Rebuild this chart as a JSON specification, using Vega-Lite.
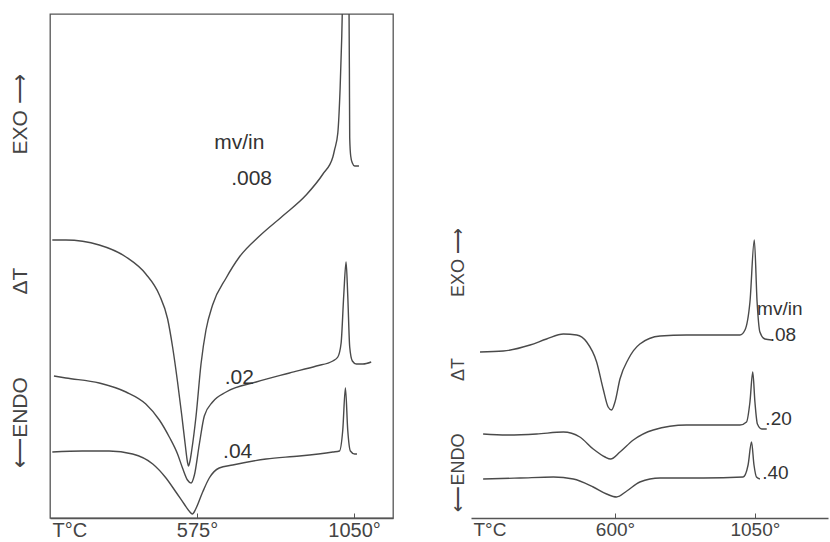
{
  "$schema": "https://vega.github.io/schema/vega-lite/v6.json",
  "background": "white",
  "padding": {"left": 8, "top": 13, "right": 2, "bottom": 0},
  "spacing": 78,
  "bounds": "flush",
  "config": {
    "font": "Liberation Sans",
    "view": {"stroke": null},
    "axis": {"grid": false, "labelColor": "#444", "titleColor": "#444", "titleFontWeight": "normal", "domainColor": "#555", "tickColor": "#555", "domainWidth": 1.3, "labelFont": "Liberation Sans", "titleFont": "Liberation Sans"}
  },
  "datasets": {
    "left": [
      {"s": "a", "T": 137, "Y": 278}, {"s": "a", "T": 178, "Y": 278}, {"s": "a", "T": 279, "Y": 273}, {"s": "a", "T": 360, "Y": 261}, {"s": "a", "T": 420, "Y": 244}, {"s": "a", "T": 461, "Y": 223}, {"s": "a", "T": 486, "Y": 199}, {"s": "a", "T": 501, "Y": 171}, {"s": "a", "T": 516, "Y": 136}, {"s": "a", "T": 529, "Y": 102}, {"s": "a", "T": 539, "Y": 74}, {"s": "a", "T": 546, "Y": 56}, {"s": "a", "T": 549, "Y": 52}, {"s": "a", "T": 553, "Y": 56}, {"s": "a", "T": 559, "Y": 68}, {"s": "a", "T": 572, "Y": 102}, {"s": "a", "T": 587, "Y": 154}, {"s": "a", "T": 602, "Y": 188}, {"s": "a", "T": 622, "Y": 213}, {"s": "a", "T": 663, "Y": 240}, {"s": "a", "T": 703, "Y": 261}, {"s": "a", "T": 764, "Y": 282}, {"s": "a", "T": 834, "Y": 302}, {"s": "a", "T": 905, "Y": 323}, {"s": "a", "T": 956, "Y": 344}, {"s": "a", "T": 986, "Y": 361}, {"s": "a", "T": 991, "Y": 368}, {"s": "a", "T": 1001, "Y": 385}, {"s": "a", "T": 1008, "Y": 430}, {"s": "a", "T": 1013, "Y": 482}, {"s": "a", "T": 1018, "Y": 560}, {"s": "a", "T": 1026, "Y": 700}, {"s": "a", "T": 1034, "Y": 560}, {"s": "a", "T": 1036, "Y": 450}, {"s": "a", "T": 1037, "Y": 380}, {"s": "a", "T": 1040, "Y": 362}, {"s": "a", "T": 1045, "Y": 355}, {"s": "a", "T": 1052, "Y": 352}, {"s": "a", "T": 1065, "Y": 352},
      {"s": "b", "T": 142, "Y": 142}, {"s": "b", "T": 178, "Y": 140}, {"s": "b", "T": 279, "Y": 135}, {"s": "b", "T": 360, "Y": 126}, {"s": "b", "T": 420, "Y": 114}, {"s": "b", "T": 461, "Y": 98}, {"s": "b", "T": 491, "Y": 81}, {"s": "b", "T": 516, "Y": 64}, {"s": "b", "T": 531, "Y": 50}, {"s": "b", "T": 546, "Y": 38}, {"s": "b", "T": 557, "Y": 35}, {"s": "b", "T": 567, "Y": 43}, {"s": "b", "T": 582, "Y": 74}, {"s": "b", "T": 597, "Y": 102}, {"s": "b", "T": 622, "Y": 116}, {"s": "b", "T": 663, "Y": 126}, {"s": "b", "T": 754, "Y": 136}, {"s": "b", "T": 855, "Y": 145}, {"s": "b", "T": 936, "Y": 152}, {"s": "b", "T": 986, "Y": 157}, {"s": "b", "T": 1001, "Y": 161}, {"s": "b", "T": 1011, "Y": 175}, {"s": "b", "T": 1019, "Y": 223}, {"s": "b", "T": 1026, "Y": 256}, {"s": "b", "T": 1031, "Y": 223}, {"s": "b", "T": 1037, "Y": 171}, {"s": "b", "T": 1045, "Y": 157}, {"s": "b", "T": 1057, "Y": 154}, {"s": "b", "T": 1077, "Y": 154}, {"s": "b", "T": 1102, "Y": 156},
      {"s": "c", "T": 137, "Y": 66}, {"s": "c", "T": 228, "Y": 67}, {"s": "c", "T": 309, "Y": 67}, {"s": "c", "T": 380, "Y": 64}, {"s": "c", "T": 441, "Y": 54}, {"s": "c", "T": 481, "Y": 40}, {"s": "c", "T": 511, "Y": 26}, {"s": "c", "T": 536, "Y": 14}, {"s": "c", "T": 551, "Y": 7}, {"s": "c", "T": 561, "Y": 4}, {"s": "c", "T": 571, "Y": 9}, {"s": "c", "T": 592, "Y": 26}, {"s": "c", "T": 612, "Y": 40}, {"s": "c", "T": 642, "Y": 50}, {"s": "c", "T": 683, "Y": 53}, {"s": "c", "T": 784, "Y": 59}, {"s": "c", "T": 885, "Y": 62}, {"s": "c", "T": 986, "Y": 66}, {"s": "c", "T": 1006, "Y": 67}, {"s": "c", "T": 1016, "Y": 88}, {"s": "c", "T": 1024, "Y": 130}, {"s": "c", "T": 1031, "Y": 88}, {"s": "c", "T": 1039, "Y": 67}, {"s": "c", "T": 1052, "Y": 64}, {"s": "c", "T": 1059, "Y": 64}
    ],
    "leftLabels": [
      {"T": 703, "Y": 375, "label": "mv/in"},
      {"T": 740, "Y": 339, "label": ".008"},
      {"T": 703, "Y": 140, "label": ".02"},
      {"T": 698, "Y": 66, "label": ".04"}
    ],
    "right": [
      {"s": "d", "T": 166, "Y": 166}, {"s": "d", "T": 241, "Y": 167}, {"s": "d", "T": 327, "Y": 173}, {"s": "d", "T": 380, "Y": 179}, {"s": "d", "T": 434, "Y": 184}, {"s": "d", "T": 477, "Y": 183}, {"s": "d", "T": 509, "Y": 176}, {"s": "d", "T": 541, "Y": 156}, {"s": "d", "T": 562, "Y": 129}, {"s": "d", "T": 578, "Y": 111}, {"s": "d", "T": 589, "Y": 108}, {"s": "d", "T": 600, "Y": 116}, {"s": "d", "T": 616, "Y": 139}, {"s": "d", "T": 643, "Y": 159}, {"s": "d", "T": 680, "Y": 174}, {"s": "d", "T": 745, "Y": 182}, {"s": "d", "T": 830, "Y": 183}, {"s": "d", "T": 937, "Y": 183}, {"s": "d", "T": 1002, "Y": 183}, {"s": "d", "T": 1018, "Y": 188}, {"s": "d", "T": 1034, "Y": 216}, {"s": "d", "T": 1048, "Y": 278}, {"s": "d", "T": 1057, "Y": 216}, {"s": "d", "T": 1066, "Y": 186}, {"s": "d", "T": 1082, "Y": 179}, {"s": "d", "T": 1104, "Y": 178},
      {"s": "e", "T": 176, "Y": 84}, {"s": "e", "T": 252, "Y": 83}, {"s": "e", "T": 348, "Y": 84}, {"s": "e", "T": 434, "Y": 86}, {"s": "e", "T": 487, "Y": 81}, {"s": "e", "T": 530, "Y": 69}, {"s": "e", "T": 568, "Y": 61}, {"s": "e", "T": 586, "Y": 59}, {"s": "e", "T": 616, "Y": 66}, {"s": "e", "T": 659, "Y": 78}, {"s": "e", "T": 723, "Y": 88}, {"s": "e", "T": 830, "Y": 93}, {"s": "e", "T": 1002, "Y": 93}, {"s": "e", "T": 1023, "Y": 96}, {"s": "e", "T": 1034, "Y": 116}, {"s": "e", "T": 1043, "Y": 146}, {"s": "e", "T": 1050, "Y": 116}, {"s": "e", "T": 1058, "Y": 94}, {"s": "e", "T": 1072, "Y": 89}, {"s": "e", "T": 1088, "Y": 89},
      {"s": "f", "T": 176, "Y": 39}, {"s": "f", "T": 295, "Y": 40}, {"s": "f", "T": 402, "Y": 41}, {"s": "f", "T": 466, "Y": 39}, {"s": "f", "T": 530, "Y": 31}, {"s": "f", "T": 573, "Y": 24}, {"s": "f", "T": 605, "Y": 21}, {"s": "f", "T": 638, "Y": 27}, {"s": "f", "T": 680, "Y": 36}, {"s": "f", "T": 745, "Y": 40}, {"s": "f", "T": 884, "Y": 40}, {"s": "f", "T": 1012, "Y": 41}, {"s": "f", "T": 1028, "Y": 53}, {"s": "f", "T": 1039, "Y": 76}, {"s": "f", "T": 1047, "Y": 53}, {"s": "f", "T": 1055, "Y": 41}, {"s": "f", "T": 1066, "Y": 39}
    ],
    "rightLabels": [
      {"T": 1130, "Y": 209, "label": "mv/in"},
      {"T": 1140, "Y": 183, "label": ".08"},
      {"T": 1126, "Y": 99, "label": ".20"},
      {"T": 1116, "Y": 45, "label": ".40"}
    ]
  },
  "hconcat": [
    {
      "width": 343,
      "height": 504,
      "view": {"stroke": "#555", "strokeWidth": 1.3},
      "layer": [
        {
          "data": {"name": "left"},
          "mark": {"type": "line", "clip": true, "color": "#4a4a4a", "strokeWidth": 1.4, "interpolate": "monotone"},
          "encoding": {
            "x": {"field": "T", "type": "quantitative", "scale": {"domain": [130, 1168], "nice": false, "zero": false},
              "axis": {"values": [575, 1050], "format": "d", "labelExpr": "datum.label + '°'", "labelFontSize": 20, "tickSize": -5, "labelPadding": 7,
                "title": "T°C", "titleFontSize": 20, "titleAnchor": "start", "titleAlign": "left", "titleX": 2, "titleY": 2, "titleBaseline": "top"}},
            "y": {"field": "Y", "type": "quantitative", "scale": {"domain": [0, 504], "nice": false, "zero": false},
              "axis": {"values": [96, 237.5, 404], "labelExpr": "datum.value < 150 ? '⟵ENDO' : (datum.value < 300 ? 'ΔT' : 'EXO ⟶')", "labelAngle": -90, "labelAlign": "center", "labelBaseline": "bottom", "labelFontSize": 21, "labelPadding": 20, "ticks": false, "domain": false, "title": null, "labelOverlap": false, "labelBound": false}},
            "detail": {"field": "s"}
          }
        },
        {
          "data": {"name": "leftLabels"},
          "mark": {"type": "text", "fontSize": 21, "color": "#333", "font": "Liberation Sans"},
          "encoding": {
            "x": {"field": "T", "type": "quantitative"},
            "y": {"field": "Y", "type": "quantitative"},
            "text": {"field": "label"}
          }
        }
      ]
    },
    {
      "width": 357,
      "height": 504,
      "layer": [
        {
          "data": {"name": "right"},
          "mark": {"type": "line", "clip": true, "color": "#4a4a4a", "strokeWidth": 1.4, "interpolate": "monotone"},
          "encoding": {
            "x": {"field": "T", "type": "quantitative", "scale": {"domain": [137, 1285], "nice": false, "zero": false},
              "axis": {"values": [600, 1050], "format": "d", "labelExpr": "datum.label + '°'", "labelFontSize": 19, "tickSize": -5, "labelPadding": 7,
                "title": "T°C", "titleFontSize": 19, "titleAnchor": "start", "titleAlign": "left", "titleX": 2, "titleY": 2, "titleBaseline": "top"}},
            "y": {"field": "Y", "type": "quantitative", "scale": {"domain": [0, 504], "nice": false, "zero": false},
              "axis": {"values": [46, 149, 256], "labelExpr": "datum.value < 100 ? '⟵ENDO' : (datum.value < 200 ? 'ΔT' : 'EXO ⟶')", "labelAngle": -90, "labelAlign": "center", "labelBaseline": "bottom", "labelFontSize": 18, "labelPadding": 4, "ticks": false, "domain": false, "title": null, "labelOverlap": false, "labelBound": false}},
            "detail": {"field": "s"}
          }
        },
        {
          "data": {"name": "rightLabels"},
          "mark": {"type": "text", "fontSize": 19, "color": "#333", "font": "Liberation Sans"},
          "encoding": {
            "x": {"field": "T", "type": "quantitative"},
            "y": {"field": "Y", "type": "quantitative"},
            "text": {"field": "label"}
          }
        },
        {
          "mark": {"type": "rule", "color": "#555", "strokeWidth": 1.3},
          "encoding": {"y": {"datum": 304, "type": "quantitative"}}
        },
        {
          "mark": {"type": "rule", "color": "#555", "strokeWidth": 1.3},
          "encoding": {"x": {"datum": 137, "type": "quantitative"}, "y": {"datum": 0, "type": "quantitative"}, "y2": {"datum": 304}}
        },
        {
          "mark": {"type": "rule", "color": "#555", "strokeWidth": 1.3},
          "encoding": {"x": {"datum": 1285, "type": "quantitative"}, "y": {"datum": 0, "type": "quantitative"}, "y2": {"datum": 304}}
        }
      ]
    }
  ]
}
